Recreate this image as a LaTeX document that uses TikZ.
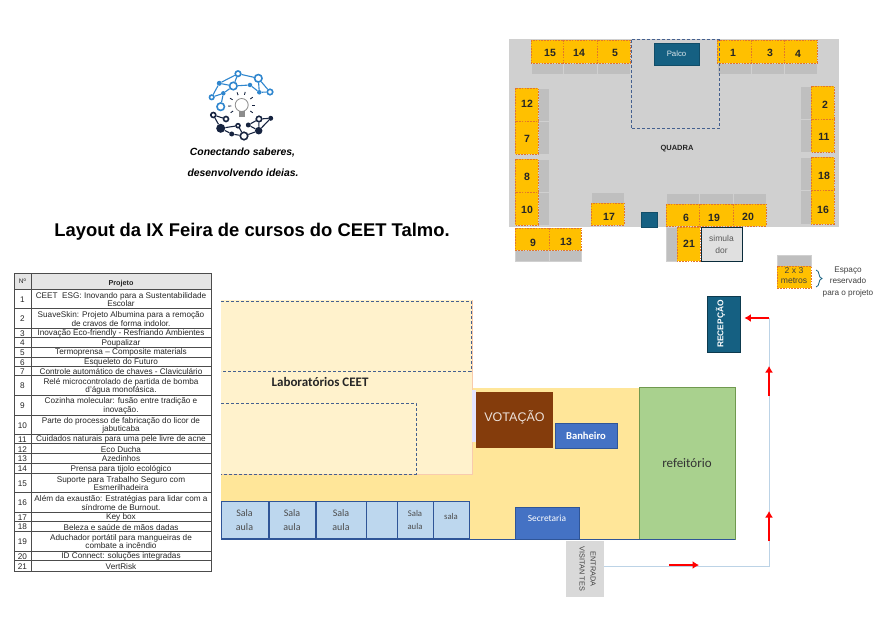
\documentclass[tikz,border=0pt]{standalone}
\usepackage{fontspec}
\setmainfont{Liberation Sans}
\newfontfamily\calfont{Carlito}
\usetikzlibrary{arrows.meta,decorations.pathreplacing}
\definecolor{courtgray}{HTML}{D0D0D0}
\definecolor{traygray}{HTML}{BFBFBF}
\definecolor{boothyellow}{HTML}{FFC000}
\definecolor{boothedge}{HTML}{E2752B}
\definecolor{petrol}{HTML}{156082}
\definecolor{hallyellow}{HTML}{FFE699}
\definecolor{labyellow}{HTML}{FFF2CC}
\definecolor{labedge}{HTML}{F8CBAD}
\definecolor{dashblue}{HTML}{44608F}
\definecolor{roomblue}{HTML}{4472C4}
\definecolor{salablue}{HTML}{BDD7EE}
\definecolor{salaedge}{HTML}{2F5597}
\definecolor{votebrown}{HTML}{843C0C}
\definecolor{foodgreen}{HTML}{A9D18E}
\definecolor{foodedge}{HTML}{70994F}
\definecolor{routeblue}{HTML}{BCD3E6}
\definecolor{logoblue}{HTML}{2F86CE}
\definecolor{logonavy}{HTML}{16233F}
\tikzset{
  booth/.style={fill=boothyellow,draw=boothedge,dash pattern=on 1.6pt off 1.2pt,line width=.8pt},
  boothnum/.style={font=\fontsize{10.5}{12}\selectfont\bfseries,text=black!85,inner sep=0pt},
  tray/.style={fill=traygray,draw=courtgray,line width=.5pt},
  plan/.style={dash pattern=on 3pt off 2pt,draw=dashblue,line width=1pt},
  room/.style={inner sep=0pt,align=center},
  sala/.style={room,fill=salablue,draw=salaedge,line width=.9pt,text=black!70},
  cell/.style={inner sep=0pt,align=center,font=\fontsize{8.2}{8.4}\selectfont,text=black!85},
  grid/.style={draw=black!70,line width=.5pt},
  route/.style={draw=routeblue,line width=.9pt},
  redarrow/.style={draw=red,line width=1.8pt,-{Latex[length=6.5pt,width=8pt]}},
  logoopen/.style={circle,draw=#1,fill=white,line width=1.6pt,inner sep=0pt},
  logofull/.style={circle,fill=#1,inner sep=0pt},
  logoline/.style={draw=#1,line width=1.1pt}
}
\begin{document}
\begin{tikzpicture}[x=1pt,y=-1pt]
\useasboundingbox (0,0) rectangle (893,628);
% logo
\foreach \nm/\x/\y/\st/\sz in {la/211.7/97.3/logoopen/4.5,lb/219.3/83.3/logofull/5,lc/233.3/86/logoopen/7.5,ld/238/73.7/logoopen/5.5,le/258.3/78.3/logoopen/7.5,lf/250/85/logofull/4.5,lg/259.3/92.3/logofull/4.5,lh/270/92/logoopen/5.5,li/223.3/93.3/logofull/4.5,lj/220.7/106.7/logoopen/7.5}
  \node[\st=logoblue,minimum size=\sz pt] (\nm) at (\x,\y) {};
\foreach \nm/\x/\y/\st/\sz in {na/213.3/115/logoopen/5,nb/226/119/logoopen/5,nc/220.7/128.3/logofull/9,nd/231.7/134/logofull/5,ne/238/125.7/logoopen/4,nf/244/136/logoopen/7.5,ng/258.7/130.7/logofull/7.5,nh/259/119/logoopen/5.5,ni/248.3/125/logofull/5,nj/270.7/118.3/logofull/5}
  \node[\st=logonavy,minimum size=\sz pt] (\nm) at (\x,\y) {};
\foreach \a/\b in {la/lb,lb/ld,ld/le,le/lh,lb/lc,lc/ld,lc/lf,lf/lg,lg/lh,li/lc,li/la,li/lj,le/lg}
  \draw[logoline=logoblue] (\a) -- (\b);
\foreach \a/\b in {na/nb,na/nc,nc/nd,nc/ne,nd/nf,ne/nf,nf/ng,ng/nh,ng/nj,nh/nj,ni/nh,ni/ng}
  \draw[logoline=logonavy] (\a) -- (\b);
\node[circle,draw=black!45,line width=.8pt,inner sep=0pt,minimum size=13pt] (bulb) at (241.7,105) {};
\node[fill=black!45,inner sep=0pt,minimum width=6pt,minimum height=6pt] (bulbbase) at (241.7,114) {};
\foreach \ang in {0,35,75,110,150,185,215,325}
  \draw[logonavy,line width=.9pt] (241.7,105) ++(\ang:10.5pt) -- ++(\ang:3pt);
\node[font=\fontsize{10.4}{12}\selectfont\bfseries\itshape] (motto1) at (242.5,152.5) {Conectando saberes,};
\node[font=\fontsize{10.4}{12}\selectfont\bfseries\itshape] (motto2) at (243,173) {desenvolvendo ideias.};
\node[font=\fontsize{18.4}{22}\selectfont\bfseries] (title) at (252,232) {Layout da IX Feira de cursos do CEET Talmo.};
% quadra
\fill[courtgray] (509,39) rectangle (839,227);
\foreach \xa/\ya/\xb/\yb in {531/63/563/74,563/63/597/74,597/63/630/74,717/63/751/74,751/63/784/74,784/63/817/74,538/88/549/121,538/121/549/154,538/159/549/192,538/192/549/225,800/86/811/119,800/119/811/152,800/157/811/190,800/190/811/224,591/192/624/203,666/193/699/204,699/193/733/204,733/193/766/204,515/250/549/261,549/250/581/261,666/227/677/261,777/255/811/266}
  \draw[tray] (\xa,\ya) rectangle (\xb,\yb);
\foreach \n/\xa/\ya/\xb/\yb/\tx/\ty in {15/531/40/563/63/550/53,14/563/40/597/63/579/53,5/597/40/630/63/615/53,1/717/40/751/63/733/53,3/751/40/784/63/770/53,4/784/40/817/63/798/54,12/515/88/538/121/527/104,7/515/121/538/154/527/139,8/515/159/538/192/527/177,10/515/192/538/225/527/210,2/811/86/834/119/825/105,11/811/119/834/152/824/137,18/811/157/834/190/824/176,16/811/190/834/224/823/210,17/591/203/624/225/609/217,6/666/204/699/226/686/218,19/699/204/733/226/714/218,20/733/204/766/226/748/217,9/515/228/549/250/533/243,13/549/228/581/250/566/242,21/677/227/700/261/689/244}{
  \draw[booth] (\xa,\ya) rectangle (\xb,\yb);
  \node[boothnum] (b\n) at (\tx,\ty) {\n};
}
\draw[plan] (631,40) rectangle (719,129);
\node[room,fill=petrol,draw=petrol!80!black,line width=.8pt,minimum width=45pt,minimum height=22pt,text=white!85!petrol,font=\fontsize{7.8}{9}\selectfont] (palco) at (676.5,54) {Palco};
\node[room,fill=petrol,draw=petrol!80!black,minimum width=16pt,minimum height=15pt] (pillar) at (649,219.5) {};
\node[font=\fontsize{7.5}{9}\selectfont\bfseries,text=black!85] (quadra) at (677,149) {QUADRA};
\node[room,fill=black!12,draw=black!55!petrol,line width=1pt,minimum width=41pt,minimum height=33pt,font=\fontsize{8.5}{11.5}\selectfont,text=black!65] (simulador) at (721.5,244.5) {simula\\dor};
% legenda
\draw[booth] (777,266) rectangle (811,288);
\node[font=\fontsize{8.6}{10}\selectfont,text=black!75,align=center,inner sep=0pt] (legend) at (794,276) {2 x 3\\metros};
\node[font=\fontsize{8.2}{11.5}\selectfont,text=black!75,align=center,inner sep=0pt] (reserved) at (848,282) {Espaço\\reservado\\para o projeto};
\coordinate (bracetop) at (816,270);
\coordinate (bracebot) at (816,287);
\draw[petrol,line width=.8pt,decorate,decoration={brace,amplitude=6pt}] (bracetop) -- (bracebot);
% predio
\fill[hallyellow] (221,388) rectangle (639,539);
\node[room,fill=labyellow,minimum width=251pt,minimum height=174pt] (labs) at (346.5,387) {};
\draw[labedge,line width=.7pt] (labs.north east) -- (labs.south east) -- (labs.south west);
\fill[blue!10!white] (472,390) rectangle (476,442);
\draw[plan] (221,301) -- (471,301) -- (471,371) -- (221,371);
\draw[plan] (221,403) -- (416,403) -- (416,474) -- (221,474);
\node[font=\calfont\fontsize{13}{15}\selectfont\bfseries,text=black!85] (labtext) at (320,382) {Laboratórios CEET};
\node[room,fill=votebrown,minimum width=77pt,minimum height=56pt,text=white!85!votebrown,font=\fontsize{12.5}{14}\selectfont] (votacao) at (514.5,420) {\raisebox{7pt}{VOTAÇÃO}};
\node[room,fill=roomblue,draw=salaedge,line width=.6pt,minimum width=62pt,minimum height=25pt,text=white,font=\calfont\fontsize{10.6}{12}\selectfont\bfseries] (banheiro) at (586,435.5) {Banheiro};
\node[room,fill=roomblue,draw=salaedge,line width=.6pt,minimum width=64pt,minimum height=32pt,text=white,font=\calfont\fontsize{9.4}{11}\selectfont] (secretaria) at (547,523) {\raisebox{9pt}{Secretaria}};
\node[room,fill=foodgreen,draw=foodedge,line width=1pt,minimum width=96pt,minimum height=152pt,text=black!80,font=\calfont\fontsize{13}{15}\selectfont] (refeitorio) at (687,463) {refeitório};
\foreach \nm/\xa/\xb/\fs/\bs/\txt in {s1/221/268/10/14.5/{Sala\\aula},s2/269/315/10/14.5/{Sala\\aula},s3/316/366/10/14.5/{Sala\\aula},s4/366/397/10/14.5/{},s5/397/433/8.7/12.7/{Sala\\aula},s6/433/469/8.7/12.7/{\raisebox{8pt}{sala}}}
  \node[sala,font=\calfont\fontsize{\fs}{\bs}\selectfont,minimum width={\xb-\xa},minimum height=37pt] (\nm) at ({(\xa+\xb)/2},520) {\txt};
\draw[salaedge,line width=.9pt] (221,539) -- (469,539);
\draw[salaedge,line width=.6pt] (469,539) -- (735,539);
\node[room,fill=petrol,draw=petrol!60!black,line width=.8pt,minimum width=33pt,minimum height=56pt] (recepcao) at (723.5,324) {};
\node[rotate=90,text=white,font=\fontsize{8.4}{10}\selectfont\bfseries] (receptext) at (720.5,324) {RECEPÇÃO};
\node[room,fill=black!15,minimum width=38pt,minimum height=56pt] (entrada) at (585,569) {};
\node[rotate=-90,align=center,inner sep=0pt,text=black!75,font=\fontsize{7.3}{11}\selectfont] (entradatext) at (587.5,569) {ENTRADA\\VISITAN TES};
% percurso
\coordinate (exit) at (604,566);
\coordinate (corner) at (769,566);
\coordinate (turn) at (769,318);
\draw[route] (exit) -- (corner) -- (turn);
\coordinate (a1s) at (669,565);
\coordinate (a1e) at (699,565);
\coordinate (a2s) at (769,541);
\coordinate (a2e) at (769,511);
\coordinate (a3s) at (769,396);
\coordinate (a3e) at (769,366);
\draw[redarrow] (a1s) -- (a1e);
\draw[redarrow] (a2s) -- (a2e);
\draw[redarrow] (a3s) -- (a3e);
\draw[redarrow,shorten >=4pt] (turn) -- (recepcao.east |- turn);
% tabela
\draw[grid,fill=black!10] (14,273.3) rectangle (31,289.3);
\draw[grid,fill=black!10] (31,273.3) rectangle (211,289.3);
\node[cell,font=\fontsize{6.5}{8}\selectfont] (numhead) at (22.5,281.3) {Nº};
\node[cell,font=\fontsize{7.2}{8}\selectfont\bfseries] (projhead) at (121,283.5) {Projeto};
\foreach \n/\ya/\yb/\txt in {
1/289.3/308.3/{CEET\ \ ESG: Inovando para a Sustentabilidade\\Escolar},
2/308.3/328.3/{SuaveSkin: Projeto Albumina para a remoção\\de cravos de forma indolor.},
3/328.3/337.3/{Inovação Eco-friendly - Resfriando Ambientes},
4/337.3/347.3/{Poupalizar},
5/347.3/357/{Termoprensa – Composite materials},
6/357/366.7/{Esqueleto do Futuro},
7/366.7/375.7/{Controle automático de chaves - Claviculário},
8/375.7/395/{Relé microcontrolado de partida de bomba\\d'água monofásica.},
9/395/415/{Cozinha molecular: fusão entre tradição e\\inovação.},
10/415/434.3/{Parte do processo de fabricação do licor de\\jabuticaba},
11/434.3/443.7/{Cuidados naturais para uma pele livre de acne},
12/443.7/453.3/{Eco Ducha},
13/453.3/463.3/{Azedinhos},
14/463.3/473/{Prensa para tijolo ecológico},
15/473/492.3/{Suporte para Trabalho Seguro com\\Esmerilhadeira},
16/492.3/512.3/{Além da exaustão: Estratégias para lidar com a\\síndrome de Burnout.},
17/512.3/521.7/{Key box},
18/521.7/531/{Beleza e saúde de mãos dadas},
19/531/551/{Aduchador portátil para mangueiras de\\combate a incêndio},
20/551/560.7/{ID Connect: soluções integradas},
21/560.7/571.7/{VertRisk}}{
  \draw[grid] (14,\ya) rectangle (31,\yb);
  \draw[grid] (31,\ya) rectangle (211,\yb);
  \node[cell] (num\n) at (22.5,{(\ya+\yb)/2+.7}) {\n};
  \node[cell] (proj\n) at (121,{(\ya+\yb)/2+.7}) {\txt};
}
\end{tikzpicture}
\end{document}
